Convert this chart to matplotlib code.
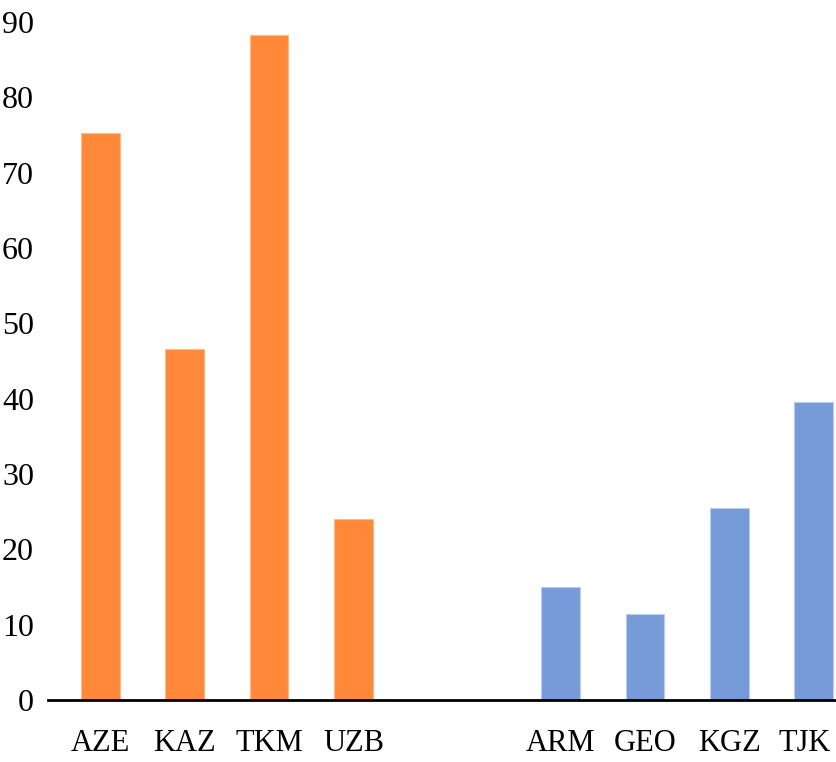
import matplotlib
matplotlib.use("Agg")
import matplotlib.pyplot as plt
from matplotlib.transforms import ScaledTranslation

# Two country groups, plotted as separate series
group_a = ["AZE", "KAZ", "TKM", "UZB"]
values_a = [75.2, 46.6, 88.3, 24.0]
group_b = ["ARM", "GEO", "KGZ", "TJK"]
values_b = [15.0, 11.4, 25.5, 39.5]

pos_a = [0, 1, 2, 3]
pos_b = [5.46, 6.46, 7.46, 8.46]

plt.rcParams["font.family"] = ["Liberation Serif", "DejaVu Serif"]

fig = plt.figure(figsize=(8.36, 7.62), dpi=100)
ax = fig.add_axes([48 / 836, 62 / 762, 1 - 48 / 836, 700 / 762])

bar_w = 0.46
ax.bar(pos_a, values_a, width=bar_w, color="#FF8938", edgecolor="#FFB88A", linewidth=0.8)
ax.bar(pos_b, values_b, width=bar_w, color="#779BD8", edgecolor="#B8CCEC", linewidth=0.8)

ax.set_xlim(-0.623, 8.725)
ax.set_ylim(0, 92.9)
ax.set_yticks(range(0, 100, 10))
ax.set_xticks(pos_a + pos_b)
ax.set_xticklabels(group_a + group_b)

for s in ["top", "right", "left"]:
    ax.spines[s].set_visible(False)
ax.spines["bottom"].set_linewidth(2)
ax.spines["bottom"].set_color("black")

ax.tick_params(axis="y", length=0, pad=10, labelsize=23)
ax.tick_params(axis="x", length=0, pad=21, labelsize=22)

# pull the last label in so it stays inside the figure
last = ax.get_xticklabels()[-1]
last.set_transform(last.get_transform() + ScaledTranslation(-9 / 100, 0, fig.dpi_scale_trans))

fig.savefig("out.png", dpi=100, facecolor="white")
